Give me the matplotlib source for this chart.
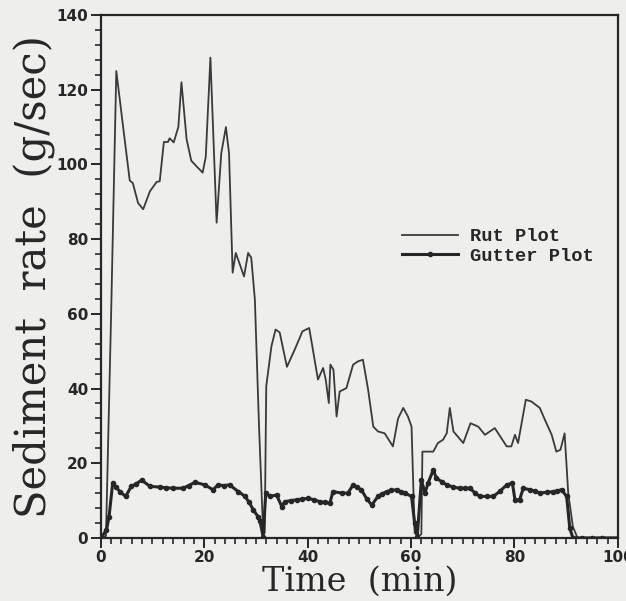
import matplotlib
matplotlib.use('Agg')
from matplotlib import pyplot as plt
from matplotlib.ticker import MultipleLocator

# time (min) and sediment rate (g/sec)
rut_t = [0, 1.0, 2.0, 3.0, 4.5, 5.6, 6.2, 7.2, 8.2, 9.5, 10.8, 11.4, 12.2, 13.0, 13.3,
         14.1, 15.0, 15.6, 16.6, 17.5, 18.5, 19.7, 20.3, 21.2, 22.4, 23.3, 24.2, 24.8,
         25.5, 26.1, 26.8, 27.7, 28.5, 29.1, 29.8, 30.6, 31.4,
         31.7, 32.0, 33.0, 33.8, 34.6, 36.0, 37.5, 39.0, 40.3, 40.7, 42.0, 43.0, 43.5,
         44.1, 44.4, 45.0, 45.6, 46.2, 47.5, 48.8, 49.8, 50.7, 51.7, 52.7, 53.6, 54.9,
         56.5, 57.5, 58.5, 59.4, 60.1, 60.7, 61.5,
         62.0, 62.2, 64.3, 65.2, 66.2, 66.9, 67.5, 68.2, 70.1, 71.5, 73.0, 74.3, 76.2,
         78.5, 79.4, 80.1, 80.7, 82.2, 83.3, 84.9, 85.9, 87.2, 88.1, 88.9, 89.7, 90.4,
         91.3, 92.2, 100]
rut_v = [0, 0.5, 60, 125, 108, 95.7, 95, 89.7, 88, 92.8, 95.3, 95.5, 106, 106, 107,
         105.9, 110, 122, 106.7, 101, 99.5, 97.8, 102, 128.6, 84.4, 103, 110, 103,
         71, 76.3, 73.6, 70, 76.3, 75, 63.8, 30, 1.2,
         1.3, 40.6, 51.3, 55.8, 55, 45.8, 50.4, 55.3, 56.2, 53, 42.4, 45.5, 42.4,
         36.1, 46.4, 45, 32.5, 39.2, 40.1, 46.4, 47.3, 47.7, 39.7, 29.8, 28.5, 28,
         24.5, 32, 34.8, 32.5, 29.8, 1.3, 0.5,
         1.0, 23.1, 23.1, 25.4, 26.3, 28, 34.8, 28.5, 25.4, 30.7, 29.8, 27.6, 29.4,
         24.5, 24.5, 27.6, 25.4, 37, 36.5, 34.8, 31.6, 27.6, 23.1, 23.6, 28, 12,
         3, 0, 0]

gutter_t = [0, 1.1, 1.6, 2.3, 3.0, 3.7, 4.8, 5.9, 6.9, 7.9, 9.5, 11.4, 12.7, 14.0, 15.9,
            17.0, 18.2, 20.1, 21.7, 22.7, 23.8, 24.9, 26.6, 27.9, 28.7, 29.5, 30.4,
            30.8, 31.4,
            31.9, 32.7, 34.0, 35.0, 35.6, 36.8, 37.9, 39.0, 40.1, 41.2, 42.4, 43.3, 44.3,
            44.9, 46.6, 47.8, 48.8, 49.6, 50.4, 51.4, 52.4, 53.6, 54.4, 55.3, 56.2,
            57.2, 58.0, 58.8, 60.1, 60.7, 61.2,
            62.0, 62.7, 63.3, 64.3, 64.9, 66.0, 66.9, 68.2, 69.4, 70.4, 71.4, 72.4,
            73.3, 74.6, 75.9, 77.2, 78.5, 79.6, 80.1, 81.0, 81.7, 83.0, 84.0, 84.9,
            86.2, 87.5, 88.3, 89.1, 90.1, 90.7, 91.3, 93, 95, 97, 100]
gutter_v = [0, 2.1, 5.7, 14.7, 13.5, 12.4, 11.1, 13.8, 14.5, 15.5, 13.8, 13.6, 13.4,
            13.3, 13.3, 14.0, 14.9, 14.2, 12.9, 14.2, 14.0, 14.2, 12.4, 11.1, 9.5,
            7.5, 5.7, 4.4, 0.3,
            12.0, 11.1, 11.5, 8.4, 9.7, 10.0, 10.2, 10.4, 10.6, 10.2, 9.7, 9.5, 9.3,
            12.4, 12.0, 12.0, 14.2, 13.5, 12.9, 10.5, 8.8, 11.1, 11.8, 12.4, 12.7,
            12.9, 12.4, 12.0, 11.1, 3.9, 0.3,
            15.5, 12.0, 14.7, 18.2, 16.0, 15.0, 14.2, 13.6, 13.3, 13.3, 13.3, 12.0,
            11.1, 11.1, 11.1, 12.5, 14.2, 14.7, 10.2, 10.2, 13.3, 12.9, 12.5, 12.0,
            12.2, 12.4, 12.6, 12.9, 11.1, 2.6, 0, 0, 0, 0, 0]

xticks = [0, 20, 40, 60, 80, 100]
yticks = [0, 20, 40, 60, 80, 100, 120, 140]

ink = '#262626'
paper = '#eeeeec'

fig = plt.figure(figsize=(6.26, 6.01), dpi=100, facecolor=paper)
ax = fig.add_axes([0.161, 0.105, 0.826, 0.870], facecolor=paper)

ax.plot(rut_t, rut_v, color='#3a3a3a', lw=1.3, label='Rut Plot')
ax.plot(gutter_t, gutter_v, color=ink, lw=2.2, marker='o', ms=3.0,
        label='Gutter Plot')

ax.set_xlim(0, 100)
ax.set_ylim(0, 140)
ax.set_xticks(xticks)
ax.set_yticks(yticks)
ax.xaxis.set_minor_locator(MultipleLocator(2))
ax.yaxis.set_minor_locator(MultipleLocator(4))
ax.tick_params(which='major', direction='out', length=7, width=1.4, color=ink,
               labelsize=11, labelcolor=ink, pad=2)
ax.tick_params(which='minor', direction='out', length=4, width=1.2, color=ink)
for lab in ax.get_xticklabels() + ax.get_yticklabels():
    lab.set_fontweight('bold')
for s in ax.spines.values():
    s.set_linewidth(1.6)
    s.set_color(ink)

ax.set_xlabel('Time  (min)', family='DejaVu Serif', fontsize=24, color=ink,
              labelpad=0)
ax.set_ylabel('Sediment  rate  (g/sec)', family='DejaVu Serif', fontsize=30,
              color=ink, labelpad=1)

leg = ax.legend(loc='upper left', bbox_to_anchor=(0.55, 0.625), frameon=False,
                handlelength=3.0, handletextpad=0.6, labelspacing=0.15,
                prop={'family': 'Liberation Mono', 'weight': 'bold', 'size': 13.5})
for t in leg.get_texts():
    t.set_color(ink)

fig.savefig('out.png', dpi=100, facecolor=paper)
